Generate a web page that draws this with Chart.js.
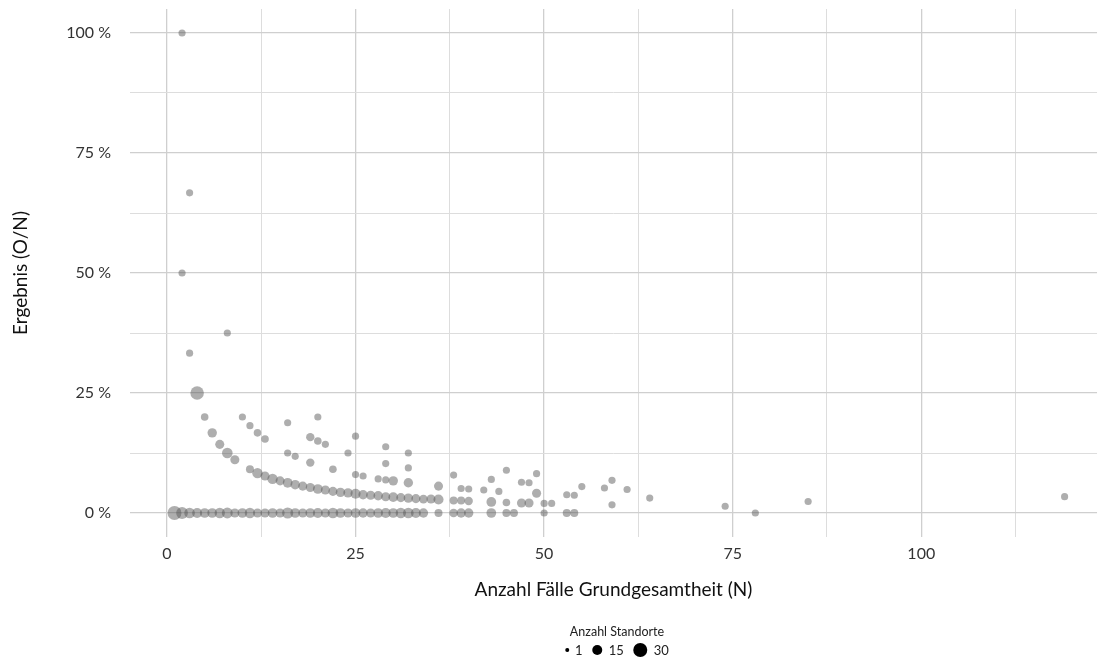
<!DOCTYPE html>
<html lang="de">
<head>
<meta charset="utf-8">
<title>Ergebnis nach Anzahl Fälle</title>
<script src="https://cdn.jsdelivr.net/npm/chart.js@4.4.1/dist/chart.umd.min.js"></script>
<style>
  html, body { margin: 0; padding: 0; background: #fff; }
  #wrap { position: relative; width: 1104px; height: 664px; font-family: Lato, "Open Sans", sans-serif; }
  #sizeLegend { position: absolute; left: 617px; top: 624px; transform: translateX(-50%); text-align: center; color: #222; }
  #sizeLegend .title { font-size: 12.5px; line-height: 15px; margin-bottom: 3px; }
  #sizeLegend .keys { display: flex; align-items: center; justify-content: center; font-size: 13px; }
  #sizeLegend .dot { display: inline-block; background: #000; border-radius: 50%; margin: 0 6px 0 10px; }
  #sizeLegend .dot:first-child { margin-left: 0; }
</style>
</head>
<body>
<div id="wrap">
  <canvas id="chart" width="1104" height="664"></canvas>
  <div id="sizeLegend">
    <div class="title">Anzahl Standorte</div>
    <div class="keys" id="legendKeys"></div>
  </div>
</div>
<script>
// --- DATEN ---
// Punkte bei 0 % (N, Anzahl Standorte)
const nullFaelle = [1, 2, 3, 4, 5, 6, 7, 8, 9, 10, 11, 12, 13, 14, 15, 16, 17, 18, 19, 20,
  21, 22, 23, 24, 25, 26, 27, 28, 29, 30, 31, 32, 33, 34, 36, 38, 39, 40, 43, 45, 46, 50, 53, 54, 78];
const nullStandorte = [30, 21, 17, 15, 14, 14, 16, 18, 12, 14, 16, 12, 12, 14, 12, 19, 14, 12, 14, 15,
  12, 17, 14, 12, 14, 13, 12, 14, 15, 14, 16, 17, 15, 13, 9, 11, 13, 13, 14, 9, 9, 7, 9, 9, 7];

// Punkte auf der Kurve 1/N
const einsFaelle = [2, 3, 4, 5, 6, 7, 8, 9, 11, 12, 13, 14, 15, 16, 17, 18, 19, 20, 21, 22,
  23, 24, 25, 26, 27, 28, 29, 30, 31, 32, 33, 34, 35, 36, 38, 39, 40, 43, 45, 47, 48, 50, 51, 59, 74];
const einsErgebnis = [50, 33.3, 25, 20, 16.7, 14.3, 12.5, 11.1, 9.1, 8.3, 7.7, 7.1, 6.7, 6.3, 5.9, 5.6, 5.3, 5.0, 4.8, 4.5,
  4.3, 4.2, 4.0, 3.8, 3.7, 3.6, 3.4, 3.3, 3.2, 3.1, 3.0, 2.9, 2.9, 2.8, 2.6, 2.6, 2.5, 2.3, 2.2, 2.1, 2.1, 2.0, 2.0, 1.7, 1.4];
const einsStandorte = [7, 7, 28, 8, 13, 12, 17, 12, 9, 16, 12, 16, 12, 14, 13, 12, 12, 14, 12, 12,
  13, 13, 15, 13, 12, 13, 12, 14, 12, 13, 12, 11, 12, 15, 9, 9, 10, 14, 8, 12, 12, 7, 7, 7, 7];

// übrige Punkte
const weitereFaelle = [2, 3, 8, 10, 11, 12, 13, 16, 16, 17, 19, 19, 20, 20, 21, 22, 24, 25, 25, 26,
  28, 29, 29, 29, 30, 32, 32, 32, 36, 38, 39, 40, 42, 43, 44, 45, 47, 48, 49, 49,
  53, 54, 55, 58, 59, 61, 64, 85, 119];
const weitereErgebnis = [100, 66.7, 37.5, 20, 18.2, 16.7, 15.4, 18.8, 12.5, 11.8, 15.8, 10.5, 20, 15, 14.3, 9.1, 12.5, 16, 8, 7.7,
  7.1, 13.8, 10.3, 6.9, 6.7, 12.5, 9.4, 6.3, 5.6, 7.9, 5.1, 5.0, 4.8, 7.0, 4.5, 8.9, 6.4, 6.3, 8.2, 4.1,
  3.8, 3.7, 5.5, 5.2, 6.8, 4.9, 3.1, 2.4, 3.4];
const weitereStandorte = [7, 7, 7, 7, 7, 8, 8, 7, 7, 7, 10, 10, 7, 8, 7, 8, 7, 7, 7, 7,
  7, 7, 7, 7, 13, 7, 7, 13, 12, 7, 7, 7, 7, 7, 7, 7, 7, 7, 7, 12,
  7, 7, 7, 7, 7, 7, 7, 7, 7];

// Achsen
const xTicks = [0, 12.5, 25, 37.5, 50, 62.5, 75, 87.5, 100, 112.5];
const yTicks = [0, 12.5, 25, 37.5, 50, 62.5, 75, 87.5, 100];
const legendWerte = [1, 15, 30];

// Radius aus Anzahl Standorte (Fläche ~ Anzahl)
function radius(n) {
  return Math.sqrt(2 + 1.55 * n);
}

function punkte(faelle, werte, standorte) {
  return faelle.map((n, i) => ({ x: n, y: werte[i], r: radius(standorte[i]) }));
}

const allePunkte = [
  ...punkte(nullFaelle, nullFaelle.map(() => 0), nullStandorte),
  ...punkte(einsFaelle, einsErgebnis, einsStandorte),
  ...punkte(weitereFaelle, weitereErgebnis, weitereStandorte)
];

const isMajor = v => v % 25 === 0;
const gridColor = ctx => (ctx.tick && isMajor(ctx.tick.value)) ? '#cfcfcf' : '#dddddd';
const gridWidth = ctx => (ctx.tick && isMajor(ctx.tick.value)) ? 1.3 : 1;

// Chart.js reserviert sonst Platz für überstehende Tick-Labels
function keinRand(s) {
  s.paddingTop = 0; s.paddingBottom = 0; s.paddingLeft = 0; s.paddingRight = 0;
}

new Chart(document.getElementById('chart'), {
  type: 'bubble',
  data: {
    datasets: [{
      data: allePunkte,
      backgroundColor: 'rgba(85, 85, 85, 0.48)',
      borderWidth: 0,
      hoverBorderWidth: 0,
      hoverRadius: 0
    }]
  },
  options: {
    responsive: false,
    animation: false,
    layout: { padding: { left: 0, top: 9, right: 0, bottom: 47 } },
    plugins: { legend: { display: false }, tooltip: { enabled: false } },
    scales: {
      x: {
        type: 'linear',
        min: -4.9,
        max: 123.3,
        afterBuildTicks: s => { s.ticks = xTicks.map(v => ({ value: v })); },
        afterFit: s => { s.height = 80; keinRand(s); },
        border: { display: false },
        grid: { color: gridColor, lineWidth: gridWidth, drawTicks: false },
        ticks: {
          autoSkip: false,
          maxRotation: 0,
          padding: 7,
          color: '#333',
          font: { family: 'Lato', size: 16 },
          callback: v => isMajor(v) ? String(v) : ''
        },
        title: {
          display: true,
          text: 'Anzahl Fälle Grundgesamtheit (N)',
          color: '#111',
          font: { family: 'Lato', size: 19 },
          padding: { top: 0, bottom: 16 }
        }
      },
      y: {
        type: 'linear',
        min: -5,
        max: 105,
        afterBuildTicks: s => { s.ticks = yTicks.map(v => ({ value: v })); },
        afterFit: s => { s.width = 130; keinRand(s); },
        border: { display: false },
        grid: { color: gridColor, lineWidth: gridWidth, drawTicks: false },
        ticks: {
          autoSkip: false,
          padding: 19,
          color: '#333',
          font: { family: 'Lato', size: 16 },
          callback: v => isMajor(v) ? v + ' %' : ''
        },
        title: {
          display: true,
          text: 'Ergebnis (O/N)',
          color: '#111',
          font: { family: 'Lato', size: 19 },
          padding: { top: 9, bottom: 0 }
        }
      }
    }
  }
});

// --- Größenlegende ---
document.getElementById('legendKeys').innerHTML = legendWerte.map(n => {
  const d = 2 * radius(n);
  return `<span class="dot" style="width:${d}px;height:${d}px"></span><span>${n}</span>`;
}).join('');
</script>
</body>
</html>
